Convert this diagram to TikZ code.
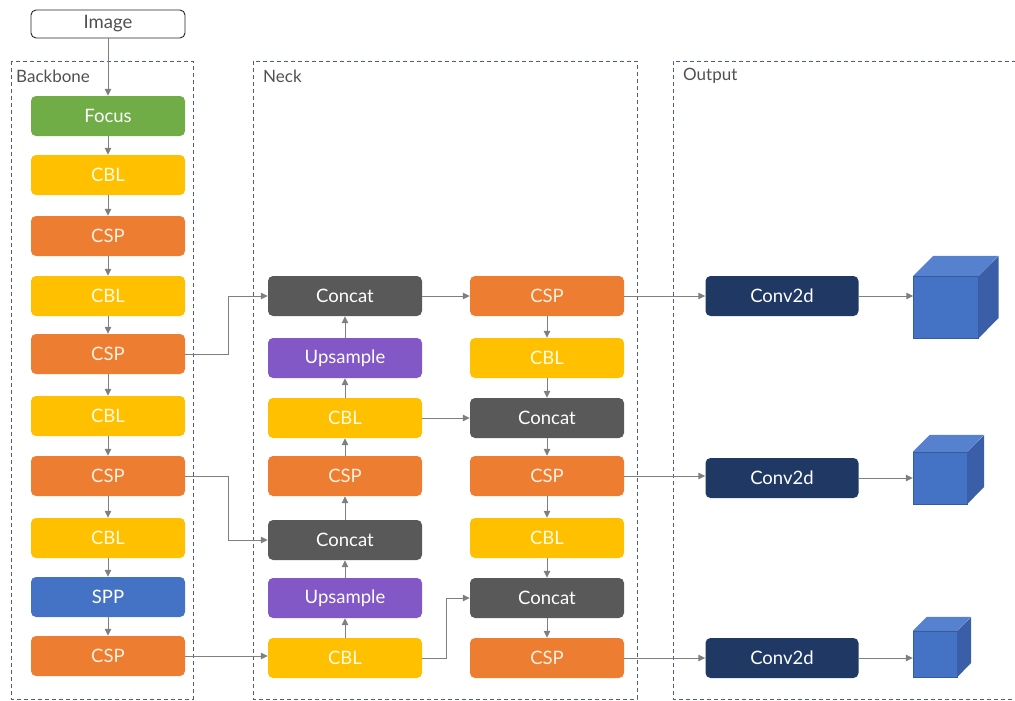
\documentclass[tikz,border=0pt]{standalone}
\usepackage{fontspec}
\setmainfont{Lato}
\usetikzlibrary{arrows.meta,calc}
\definecolor{cgreen}{HTML}{70AD47}
\definecolor{cyellow}{HTML}{FFC000}
\definecolor{corange}{HTML}{ED7D31}
\definecolor{cgray}{HTML}{595959}
\definecolor{cpurple}{HTML}{8257C6}
\definecolor{cblue}{HTML}{4472C4}
\definecolor{cnavy}{HTML}{203864}
\definecolor{arrgray}{HTML}{7F7F7F}
\definecolor{dashc}{HTML}{4A5AA6}
\definecolor{labc}{HTML}{505050}
\definecolor{cubetop}{HTML}{5681CF}
\definecolor{cuberight}{HTML}{3A5FA8}
\begin{document}
\begin{tikzpicture}[x=1pt,y=-1pt,
  blk/.style={rounded corners=5pt, minimum width=154pt, minimum height=40pt, text=white, font=\fontsize{18.5}{22}\selectfont, inner sep=0pt},
  green/.style={blk, fill=cgreen},
  cbl/.style={blk, fill=cyellow, text=white!88!yellow},
  csp/.style={blk, fill=corange, text=white!88!orange},
  concat/.style={blk, fill=cgray},
  ups/.style={blk, fill=cpurple},
  spp/.style={blk, fill=cblue},
  conv/.style={blk, fill=cnavy, minimum width=153pt},
  arr/.style={draw=arrgray, line width=1pt, -{Triangle[length=7pt,width=6.5pt]}},
  grp/.style={draw=dashc, line width=0.8pt, dash pattern=on 4pt off 3pt},
  lab/.style={anchor=west, text=labc, font=\fontsize{17}{20}\selectfont, inner sep=0pt},
  cubef/.style={fill=cblue, draw=cblue!80!black, line width=0.4pt, inner sep=0pt}
]
\useasboundingbox (0,0) rectangle (1015,701);
% groups
\draw[grp] (11,61) rectangle (193,699);
\draw[grp] (253,61) rectangle (637,699);
\draw[grp] (1016,61) -- (673,61) -- (673,699) -- (1016,699);
\node[lab] (lb) at (16,76) {Backbone};
\node[lab] (ln) at (263,76) {Neck};
\node[lab] (lo) at (683,76) {Output};

% image
\node[draw=black!85, line width=0.9pt, rounded corners=5pt, fill=white, minimum width=154pt, minimum height=28pt, inner sep=0pt, text=labc, font=\fontsize{18.5}{22}\selectfont] (img) at (108,24) {Image};

% backbone
\node[green] (b1) at (108,116) {Focus};
\node[cbl] (b2) at (108,175) {CBL};
\node[csp] (b3) at (108,236) {CSP};
\node[cbl] (b4) at (108,296) {CBL};
\node[csp] (b5) at (108,354) {CSP};
\node[cbl] (b6) at (108,416) {CBL};
\node[csp] (b7) at (108,476) {CSP};
\node[cbl] (b8) at (108,538) {CBL};
\node[spp] (b9) at (108,597) {SPP};
\node[csp] (b10) at (108,656) {CSP};

% neck left
\node[concat] (n1) at (345,296) {Concat};
\node[ups] (n2) at (345,358) {Upsample};
\node[cbl] (n3) at (345,418) {CBL};
\node[csp] (n4) at (345,476) {CSP};
\node[concat] (n5) at (345,540) {Concat};
\node[ups] (n6) at (345,598) {Upsample};
\node[cbl] (n7) at (345,658) {CBL};

% neck right
\node[csp] (r1) at (547,296) {CSP};
\node[cbl] (r2) at (547,358) {CBL};
\node[concat] (r3) at (547,418) {Concat};
\node[csp] (r4) at (547,476) {CSP};
\node[cbl] (r5) at (547,538) {CBL};
\node[concat] (r6) at (547,598) {Concat};
\node[csp] (r7) at (547,658) {CSP};

% output
\node[conv] (o1) at (782,296) {Conv2d};
\node[conv] (o2) at (782,478) {Conv2d};
\node[conv] (o3) at (782,658) {Conv2d};

% cubes
\node[cubef, minimum width=65pt, minimum height=62pt] (c1) at (946,307) {};
\fill[cubetop] (c1.north west) -- ++(20,-20) -- ++(65,0) -- (c1.north east) -- cycle;
\fill[cuberight] (c1.north east) -- ++(20,-20) -- ++(0,62) -- (c1.south east) -- cycle;
\node[cubef, minimum width=54pt, minimum height=52pt] (c2) at (940,478) {};
\fill[cubetop] (c2.north west) -- ++(17,-17) -- ++(54,0) -- (c2.north east) -- cycle;
\fill[cuberight] (c2.north east) -- ++(17,-17) -- ++(0,52) -- (c2.south east) -- cycle;
\node[cubef, minimum width=44pt, minimum height=46pt] (c3) at (935,654) {};
\fill[cubetop] (c3.north west) -- ++(14,-14) -- ++(44,0) -- (c3.north east) -- cycle;
\fill[cuberight] (c3.north east) -- ++(14,-14) -- ++(0,46) -- (c3.south east) -- cycle;

% backbone chain
\draw[arr] (img.south) -- (b1.north);
\foreach \a/\b in {b1/b2,b2/b3,b3/b4,b4/b5,b5/b6,b6/b7,b7/b8,b8/b9,b9/b10}
  \draw[arr] (\a.south) -- (\b.north);
% neck left, upward
\foreach \a/\b in {n7/n6,n6/n5,n5/n4,n4/n3,n3/n2,n2/n1}
  \draw[arr] (\a.north) -- (\b.south);
% neck right, downward
\foreach \a/\b in {r1/r2,r2/r3,r3/r4,r4/r5,r5/r6,r6/r7}
  \draw[arr] (\a.south) -- (\b.north);
% cross links
\draw[arr] (b5.east) -- ++(43,0) |- (n1.west);
\draw[arr] (b7.east) -- ++(43,0) |- (n5.west);
\draw[arr] (b10.east) -- (b10.east -| n7.west);
\draw[arr] (n1.east) -- (r1.west);
\draw[arr] (n3.east) -- (r3.west);
\draw[arr] (n7.east) -- ++(24,0) |- (r6.west);
\draw[arr] (r1.east) -- (o1.west);
\draw[arr] (r4.east) -- (r4.east -| o2.west);
\draw[arr] (r7.east) -- (o3.west);
\draw[arr] (o1.east) -- (o1.east -| c1.west);
\draw[arr] (o2.east) -- (o2.east -| c2.west);
\draw[arr] (o3.east) -- (o3.east -| c3.west);
\end{tikzpicture}
\end{document}
